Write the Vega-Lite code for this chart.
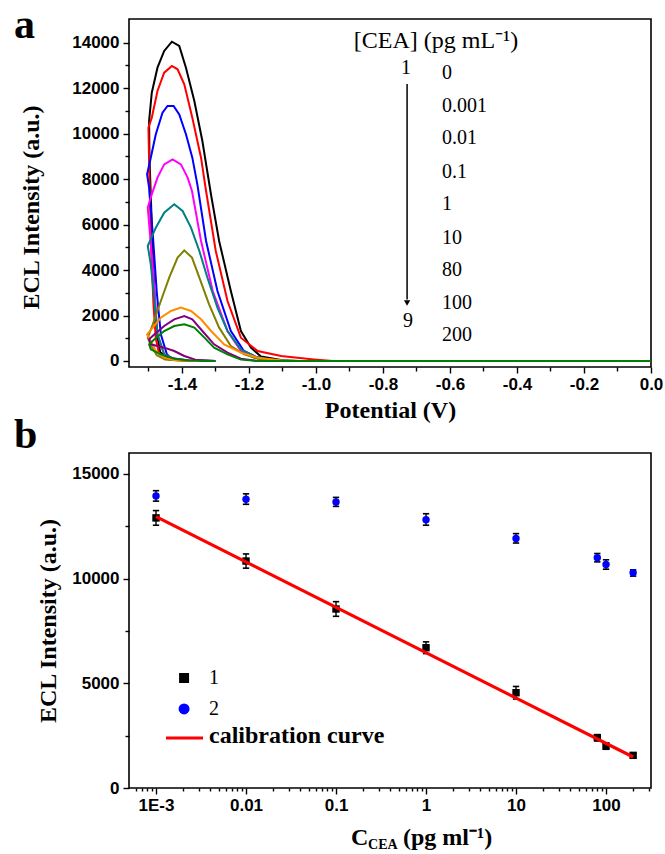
{
  "$schema": "https://vega.github.io/schema/vega-lite/v6.json",
  "padding": {"left": 13, "top": 3, "right": 5, "bottom": 0},
  "bounds": "flush",
  "spacing": 86,
  "background": "white",
  "resolve": {"scale": {"color": "independent", "shape": "independent"}},
  "config": {
    "view": {"stroke": "#000", "strokeWidth": 1.6},
    "axis": {"domain": false, "grid": false, "tickColor": "#000", "tickWidth": 1.4, "labelFont": "Liberation Sans", "labelFontWeight": "bold", "labelFontSize": 17, "labelColor": "#000", "titleFont": "Liberation Serif", "titleFontWeight": "bold", "titleFontSize": 24, "titleColor": "#000", "labelFlush": false, "labelOverlap": false}
  },
  "datasets": {
    "curves": [
      {"c":"c1","i":0,"x":0,"y":0},{"c":"c1","i":0.5,"x":-1.05,"y":0},{"c":"c1","i":1,"x":-1.10,"y":30},{"c":"c1","i":2,"x":-1.164,"y":200},{"c":"c1","i":3,"x":-1.194,"y":585},{"c":"c1","i":4,"x":-1.224,"y":1319},{"c":"c1","i":5,"x":-1.254,"y":3079},{"c":"c1","i":6,"x":-1.289,"y":5278},{"c":"c1","i":7,"x":-1.313,"y":7300},{"c":"c1","i":8,"x":-1.339,"y":9676},{"c":"c1","i":9,"x":-1.363,"y":11433},{"c":"c1","i":10,"x":-1.388,"y":12900},{"c":"c1","i":11,"x":-1.408,"y":13854},{"c":"c1","i":12,"x":-1.430,"y":14043},{"c":"c1","i":13,"x":-1.453,"y":13634},{"c":"c1","i":14,"x":-1.473,"y":12900},{"c":"c1","i":15,"x":-1.490,"y":11800},{"c":"c1","i":16,"x":-1.498,"y":10555},{"c":"c1","i":17,"x":-1.497,"y":9000},{"c":"c1","i":18,"x":-1.490,"y":6000},{"c":"c1","i":19,"x":-1.482,"y":3000},{"c":"c1","i":20,"x":-1.475,"y":1200},{"c":"c1","i":21,"x":-1.465,"y":400},{"c":"c1","i":22,"x":-1.44,"y":100},{"c":"c1","i":23,"x":-1.38,"y":0},
      {"c":"c2","i":0,"x":0,"y":0},{"c":"c2","i":0.5,"x":-0.95,"y":0},{"c":"c2","i":1,"x":-1.006,"y":70},{"c":"c2","i":2,"x":-1.104,"y":220},{"c":"c2","i":3,"x":-1.174,"y":440},{"c":"c2","i":4,"x":-1.224,"y":1026},{"c":"c2","i":5,"x":-1.264,"y":2639},{"c":"c2","i":6,"x":-1.299,"y":4838},{"c":"c2","i":7,"x":-1.328,"y":7477},{"c":"c2","i":8,"x":-1.343,"y":8941},{"c":"c2","i":9,"x":-1.369,"y":10700},{"c":"c2","i":10,"x":-1.393,"y":12167},{"c":"c2","i":11,"x":-1.413,"y":12827},{"c":"c2","i":12,"x":-1.430,"y":12974},{"c":"c2","i":13,"x":-1.453,"y":12680},{"c":"c2","i":14,"x":-1.473,"y":11875},{"c":"c2","i":15,"x":-1.490,"y":10700},{"c":"c2","i":16,"x":-1.500,"y":10260},{"c":"c2","i":17,"x":-1.497,"y":8000},{"c":"c2","i":18,"x":-1.492,"y":5000},{"c":"c2","i":19,"x":-1.485,"y":2500},{"c":"c2","i":20,"x":-1.478,"y":1000},{"c":"c2","i":21,"x":-1.468,"y":300},{"c":"c2","i":22,"x":-1.44,"y":60},{"c":"c2","i":23,"x":-1.38,"y":0},
      {"c":"c3","i":0,"x":0,"y":0},{"c":"c3","i":0.5,"x":-1.08,"y":0},{"c":"c3","i":1,"x":-1.12,"y":20},{"c":"c3","i":2,"x":-1.174,"y":147},{"c":"c3","i":3,"x":-1.215,"y":440},{"c":"c3","i":4,"x":-1.254,"y":1319},{"c":"c3","i":5,"x":-1.294,"y":3079},{"c":"c3","i":6,"x":-1.328,"y":5278},{"c":"c3","i":7,"x":-1.354,"y":7769},{"c":"c3","i":8,"x":-1.369,"y":8941},{"c":"c3","i":9,"x":-1.388,"y":9970},{"c":"c3","i":10,"x":-1.408,"y":10847},{"c":"c3","i":11,"x":-1.425,"y":11215},{"c":"c3","i":12,"x":-1.443,"y":11215},{"c":"c3","i":13,"x":-1.458,"y":10920},{"c":"c3","i":14,"x":-1.478,"y":9970},{"c":"c3","i":15,"x":-1.493,"y":8941},{"c":"c3","i":16,"x":-1.504,"y":8207},{"c":"c3","i":17,"x":-1.498,"y":7622},{"c":"c3","i":18,"x":-1.487,"y":5571},{"c":"c3","i":19,"x":-1.475,"y":3000},{"c":"c3","i":20,"x":-1.463,"y":1173},{"c":"c3","i":21,"x":-1.445,"y":300},{"c":"c3","i":22,"x":-1.433,"y":132},{"c":"c3","i":23,"x":-1.38,"y":20},{"c":"c3","i":24,"x":-1.30,"y":0},
      {"c":"c4","i":0,"x":0,"y":0},{"c":"c4","i":0.5,"x":-1.09,"y":0},{"c":"c4","i":1,"x":-1.13,"y":20},{"c":"c4","i":2,"x":-1.185,"y":147},{"c":"c4","i":3,"x":-1.224,"y":440},{"c":"c4","i":4,"x":-1.264,"y":1319},{"c":"c4","i":5,"x":-1.308,"y":3079},{"c":"c4","i":6,"x":-1.343,"y":5278},{"c":"c4","i":7,"x":-1.370,"y":7477},{"c":"c4","i":8,"x":-1.383,"y":8062},{"c":"c4","i":9,"x":-1.403,"y":8648},{"c":"c4","i":10,"x":-1.428,"y":8868},{"c":"c4","i":11,"x":-1.453,"y":8648},{"c":"c4","i":12,"x":-1.473,"y":8062},{"c":"c4","i":13,"x":-1.490,"y":7329},{"c":"c4","i":14,"x":-1.502,"y":6743},{"c":"c4","i":15,"x":-1.487,"y":4105},{"c":"c4","i":16,"x":-1.473,"y":1173},{"c":"c4","i":17,"x":-1.453,"y":293},{"c":"c4","i":18,"x":-1.42,"y":80},{"c":"c4","i":19,"x":-1.35,"y":0},
      {"c":"c5","i":0,"x":0,"y":0},{"c":"c5","i":0.5,"x":-1.09,"y":0},{"c":"c5","i":1,"x":-1.13,"y":20},{"c":"c5","i":2,"x":-1.185,"y":220},{"c":"c5","i":3,"x":-1.224,"y":513},{"c":"c5","i":4,"x":-1.264,"y":1319},{"c":"c5","i":5,"x":-1.294,"y":2346},{"c":"c5","i":6,"x":-1.324,"y":3665},{"c":"c5","i":7,"x":-1.348,"y":4838},{"c":"c5","i":8,"x":-1.373,"y":5864},{"c":"c5","i":9,"x":-1.398,"y":6597},{"c":"c5","i":10,"x":-1.423,"y":6890},{"c":"c5","i":11,"x":-1.453,"y":6522},{"c":"c5","i":12,"x":-1.478,"y":5864},{"c":"c5","i":13,"x":-1.502,"y":5058},{"c":"c5","i":14,"x":-1.493,"y":4251},{"c":"c5","i":15,"x":-1.482,"y":2639},{"c":"c5","i":16,"x":-1.473,"y":1173},{"c":"c5","i":17,"x":-1.453,"y":293},{"c":"c5","i":18,"x":-1.42,"y":60},{"c":"c5","i":19,"x":-1.35,"y":0},
      {"c":"c6","i":0,"x":0,"y":0},{"c":"c6","i":0.5,"x":-1.09,"y":0},{"c":"c6","i":1,"x":-1.12,"y":10},{"c":"c6","i":2,"x":-1.174,"y":100},{"c":"c6","i":3,"x":-1.214,"y":293},{"c":"c6","i":4,"x":-1.254,"y":660},{"c":"c6","i":5,"x":-1.289,"y":1466},{"c":"c6","i":6,"x":-1.319,"y":2493},{"c":"c6","i":7,"x":-1.348,"y":3665},{"c":"c6","i":8,"x":-1.370,"y":4545},{"c":"c6","i":9,"x":-1.393,"y":4867},{"c":"c6","i":10,"x":-1.413,"y":4545},{"c":"c6","i":11,"x":-1.438,"y":3665},{"c":"c6","i":12,"x":-1.463,"y":2639},{"c":"c6","i":13,"x":-1.487,"y":1613},{"c":"c6","i":14,"x":-1.502,"y":1026},{"c":"c6","i":15,"x":-1.493,"y":700},{"c":"c6","i":16,"x":-1.475,"y":250},{"c":"c6","i":17,"x":-1.45,"y":60},{"c":"c6","i":18,"x":-1.38,"y":0},
      {"c":"c7","i":0,"x":0,"y":0},{"c":"c7","i":0.5,"x":-1.05,"y":0},{"c":"c7","i":1,"x":-1.10,"y":20},{"c":"c7","i":2,"x":-1.174,"y":147},{"c":"c7","i":3,"x":-1.224,"y":367},{"c":"c7","i":4,"x":-1.274,"y":733},{"c":"c7","i":5,"x":-1.313,"y":1319},{"c":"c7","i":6,"x":-1.343,"y":1833},{"c":"c7","i":7,"x":-1.373,"y":2199},{"c":"c7","i":8,"x":-1.403,"y":2346},{"c":"c7","i":9,"x":-1.433,"y":2199},{"c":"c7","i":10,"x":-1.463,"y":1906},{"c":"c7","i":11,"x":-1.487,"y":1466},{"c":"c7","i":12,"x":-1.504,"y":1173},{"c":"c7","i":13,"x":-1.493,"y":880},{"c":"c7","i":14,"x":-1.478,"y":440},{"c":"c7","i":15,"x":-1.453,"y":147},{"c":"c7","i":16,"x":-1.42,"y":30},{"c":"c7","i":17,"x":-1.35,"y":0},
      {"c":"c8","i":0,"x":0,"y":0},{"c":"c8","i":0.5,"x":-1.14,"y":0},{"c":"c8","i":1,"x":-1.18,"y":10},{"c":"c8","i":2,"x":-1.224,"y":100},{"c":"c8","i":3,"x":-1.264,"y":367},{"c":"c8","i":4,"x":-1.304,"y":733},{"c":"c8","i":5,"x":-1.339,"y":1319},{"c":"c8","i":6,"x":-1.369,"y":1833},{"c":"c8","i":7,"x":-1.393,"y":1979},{"c":"c8","i":8,"x":-1.423,"y":1833},{"c":"c8","i":9,"x":-1.453,"y":1539},{"c":"c8","i":10,"x":-1.482,"y":1173},{"c":"c8","i":11,"x":-1.498,"y":953},{"c":"c8","i":12,"x":-1.493,"y":733},{"c":"c8","i":13,"x":-1.453,"y":586},{"c":"c8","i":14,"x":-1.423,"y":440},{"c":"c8","i":15,"x":-1.393,"y":220},{"c":"c8","i":16,"x":-1.36,"y":60},{"c":"c8","i":17,"x":-1.30,"y":0},
      {"c":"c9","i":0,"x":0,"y":0},{"c":"c9","i":0.5,"x":-1.14,"y":0},{"c":"c9","i":1,"x":-1.18,"y":10},{"c":"c9","i":2,"x":-1.224,"y":60},{"c":"c9","i":3,"x":-1.264,"y":293},{"c":"c9","i":4,"x":-1.304,"y":586},{"c":"c9","i":5,"x":-1.333,"y":1026},{"c":"c9","i":6,"x":-1.363,"y":1466},{"c":"c9","i":7,"x":-1.393,"y":1613},{"c":"c9","i":8,"x":-1.423,"y":1539},{"c":"c9","i":9,"x":-1.453,"y":1319},{"c":"c9","i":10,"x":-1.482,"y":953},{"c":"c9","i":11,"x":-1.498,"y":733},{"c":"c9","i":12,"x":-1.493,"y":513},{"c":"c9","i":13,"x":-1.463,"y":293},{"c":"c9","i":14,"x":-1.423,"y":100},{"c":"c9","i":15,"x":-1.38,"y":20},{"c":"c9","i":16,"x":-1.30,"y":0}
    ],
    "concLabels": [
      {"t":"0","x":-0.624,"y":12666},{"t":"0.001","x":-0.624,"y":11215},{"t":"0.01","x":-0.624,"y":9808},{"t":"0.1","x":-0.624,"y":8312},{"t":"1","x":-0.624,"y":6905},{"t":"10","x":-0.624,"y":5410},{"t":"80","x":-0.624,"y":4002},{"t":"100","x":-0.624,"y":2551},{"t":"200","x":-0.624,"y":1143}
    ],
    "series": [
      {"s":"1","x":0.001,"y":12900,"lo":12550,"hi":13250},
      {"s":"1","x":0.01,"y":10840,"lo":10500,"hi":11180},
      {"s":"1","x":0.1,"y":8550,"lo":8200,"hi":8900},
      {"s":"1","x":1,"y":6700,"lo":6420,"hi":6980},
      {"s":"1","x":10,"y":4550,"lo":4250,"hi":4850},
      {"s":"1","x":80,"y":2400,"lo":2250,"hi":2550},
      {"s":"1","x":100,"y":2000,"lo":1850,"hi":2150},
      {"s":"1","x":200,"y":1560,"lo":1450,"hi":1650},
      {"s":"2","x":0.001,"y":13950,"lo":13700,"hi":14200},
      {"s":"2","x":0.01,"y":13790,"lo":13550,"hi":14050},
      {"s":"2","x":0.1,"y":13660,"lo":13450,"hi":13880},
      {"s":"2","x":1,"y":12810,"lo":12550,"hi":13100},
      {"s":"2","x":10,"y":11920,"lo":11700,"hi":12150},
      {"s":"2","x":80,"y":11000,"lo":10800,"hi":11200},
      {"s":"2","x":100,"y":10680,"lo":10450,"hi":10900},
      {"s":"2","x":200,"y":10280,"lo":10120,"hi":10420}
    ]
  },
  "vconcat": [
    {
      "width": 522,
      "height": 348,
      "encoding": {
        "x": {"field": "x", "type": "quantitative", "scale": {"domain": [-1.558, 0], "nice": false, "zero": false},
          "axis": {"title": "Potential (V)", "values": [-1.5,-1.4,-1.3,-1.2,-1.1,-1.0,-0.9,-0.8,-0.7,-0.6,-0.5,-0.4,-0.3,-0.2,-0.1,0],
            "labelExpr": "abs(round(datum.value*10)) % 2 == 0 ? replace(format(datum.value, '.1f'), '\u2212', '-') : ''",
            "tickSize": {"condition": {"test": "abs(round(datum.value*10)) % 2 == 0", "value": 6}, "value": 4},
            "labelPadding": 3, "titlePadding": 6}},
        "y": {"field": "y", "type": "quantitative", "scale": {"domain": [-264, 15040], "nice": false, "zero": false},
          "axis": {"title": "ECL Intensity (a.u.)", "values": [0,1000,2000,3000,4000,5000,6000,7000,8000,9000,10000,11000,12000,13000,14000],
            "labelExpr": "datum.value % 2000 == 0 ? format(datum.value, 'd') : ''",
            "tickSize": {"condition": {"test": "datum.value % 2000 == 0", "value": 6}, "value": 4},
            "labelPadding": 4, "titlePadding": 28, "titleY": 188}}
      },
      "layer": [
        {
          "data": {"name": "curves"},
          "mark": {"type": "line", "strokeWidth": 2, "clip": true},
          "encoding": {
            "color": {"field": "c", "type": "nominal", "legend": null,
              "scale": {"domain": ["c1","c2","c3","c4","c5","c6","c7","c8","c9"], "range": ["#000000","#ff0000","#0000ff","#ff00ff","#008080","#808000","#ff8c00","#800080","#008000"]}},
            "order": {"field": "i", "type": "quantitative"}
          }
        },
        {
          "data": {"values": [{"t": "[CEA] (pg mL\u207b\u00b9)", "x": -0.887, "y": 14074}]},
          "mark": {"type": "text", "align": "left", "baseline": "middle", "font": "Liberation Serif", "fontSize": 24, "color": "#000"},
          "encoding": {"text": {"field": "t"}}
        },
        {
          "data": {"name": "concLabels"},
          "mark": {"type": "text", "align": "left", "baseline": "middle", "font": "Liberation Serif", "fontSize": 20, "color": "#000"},
          "encoding": {"text": {"field": "t"}}
        },
        {
          "data": {"values": [{"t": "1", "x": -0.731, "y": 12886}, {"t": "9", "x": -0.725, "y": 1759}]},
          "mark": {"type": "text", "align": "center", "baseline": "middle", "font": "Liberation Serif", "fontSize": 20, "color": "#000"},
          "encoding": {"text": {"field": "t"}}
        },
        {
          "data": {"values": [{"x": -0.728, "y": 12182, "y2": 2700}]},
          "mark": {"type": "rule", "color": "#000", "strokeWidth": 1.5},
          "encoding": {"y2": {"field": "y2"}}
        },
        {
          "data": {"values": [{"x": -0.728, "y": 2550}]},
          "mark": {"type": "point", "shape": "triangle-down", "filled": true, "color": "#000", "size": 40, "opacity": 1},
          "encoding": {}
        },
        {
          "data": {"values": [{"t": "a", "x": -1.901, "y": 14205}]},
          "mark": {"type": "text", "align": "left", "baseline": "alphabetic", "font": "Liberation Serif", "fontWeight": "bold", "fontSize": 42, "color": "#000"},
          "encoding": {"text": {"field": "t"}}
        }
      ]
    },
    {
      "width": 522,
      "height": 335,
      "encoding": {
        "x": {"field": "x", "type": "quantitative", "scale": {"type": "log", "domain": [0.000501, 316], "nice": false},
          "axis": {"title": null, "values": [0.0005,0.0006,0.0007,0.0008,0.0009,0.001,0.002,0.003,0.004,0.005,0.006,0.007,0.008,0.009,0.01,0.02,0.03,0.04,0.05,0.06,0.07,0.08,0.09,0.1,0.2,0.3,0.4,0.5,0.6,0.7,0.8,0.9,1,2,3,4,5,6,7,8,9,10,20,30,40,50,60,70,80,90,100,200,300],
            "labelExpr": "datum.value == 0.001 ? '1E-3' : datum.value == 0.01 ? '0.01' : datum.value == 0.1 ? '0.1' : datum.value == 1 ? '1' : datum.value == 10 ? '10' : datum.value == 100 ? '100' : ''",
            "tickSize": {"condition": {"test": "indexof([0.001,0.01,0.1,1,10,100], datum.value) >= 0", "value": 6}, "value": 3},
            "labelPadding": 3}},
        "y": {"field": "y", "type": "quantitative", "scale": {"domain": [0, 16000], "nice": false, "zero": false},
          "axis": {"title": "ECL Intensity (a.u.)", "values": [0,2500,5000,7500,10000,12500,15000],
            "labelExpr": "datum.value % 5000 == 0 ? format(datum.value, 'd') : ''",
            "tickSize": {"condition": {"test": "datum.value % 5000 == 0", "value": 6}, "value": 4},
            "labelPadding": 4, "titlePadding": 11}}
      },
      "layer": [
        {
          "data": {"name": "series"},
          "mark": {"type": "rule", "color": "#000", "strokeWidth": 1.4},
          "encoding": {"y": {"field": "lo", "type": "quantitative"}, "y2": {"field": "hi"}}
        },
        {
          "data": {"name": "series"},
          "mark": {"type": "point", "shape": "M-1,0L1,0", "filled": false, "color": "#000", "strokeWidth": 1.6, "size": 40, "opacity": 1},
          "encoding": {"y": {"field": "lo", "type": "quantitative"}}
        },
        {
          "data": {"name": "series"},
          "mark": {"type": "point", "shape": "M-1,0L1,0", "filled": false, "color": "#000", "strokeWidth": 1.6, "size": 40, "opacity": 1},
          "encoding": {"y": {"field": "hi", "type": "quantitative"}}
        },
        {
          "data": {"name": "series"},
          "mark": {"type": "point", "filled": true, "opacity": 1, "size": 55},
          "encoding": {
            "shape": {"field": "s", "type": "nominal", "legend": null, "scale": {"domain": ["1","2"], "range": ["square","circle"]}},
            "color": {"field": "s", "type": "nominal", "legend": null, "scale": {"domain": ["1","2"], "range": ["#000000","#0000ff"]}}
          }
        },
        {
          "data": {"values": [{"x": 0.001, "y": 12960}, {"x": 200, "y": 1480}]},
          "mark": {"type": "line", "color": "#ff0000", "strokeWidth": 3.2},
          "encoding": {}
        },
        {
          "data": {"values": [{"x": 0.00205, "y": 5255}]},
          "mark": {"type": "point", "shape": "square", "filled": true, "color": "#000", "size": 100, "opacity": 1},
          "encoding": {}
        },
        {
          "data": {"values": [{"x": 0.00205, "y": 3774}]},
          "mark": {"type": "point", "shape": "circle", "filled": true, "color": "#0000ff", "size": 120, "opacity": 1},
          "encoding": {}
        },
        {
          "data": {"values": [{"x": 0.00129, "y": 2389}, {"x": 0.00333, "y": 2389}]},
          "mark": {"type": "line", "color": "#ff0000", "strokeWidth": 3},
          "encoding": {}
        },
        {
          "data": {"values": [{"t": "1", "x": 0.00388, "y": 5255}, {"t": "2", "x": 0.00388, "y": 3774}]},
          "mark": {"type": "text", "align": "left", "baseline": "middle", "font": "Liberation Serif", "fontSize": 20, "color": "#000"},
          "encoding": {"text": {"field": "t"}}
        },
        {
          "data": {"values": [{"t": "calibration curve", "x": 0.00388, "y": 2484}]},
          "mark": {"type": "text", "align": "left", "baseline": "middle", "font": "Liberation Serif", "fontWeight": "bold", "fontSize": 24, "color": "#000"},
          "encoding": {"text": {"field": "t"}}
        },
        {
          "data": {"values": [{"t": "b", "x": 0.0000264, "y": 16242}]},
          "mark": {"type": "text", "align": "left", "baseline": "alphabetic", "font": "Liberation Serif", "fontWeight": "bold", "fontSize": 42, "color": "#000"},
          "encoding": {"text": {"field": "t"}}
        },
        {
          "data": {"values": [{"t": "C", "x": 0.147, "y": -2720}, {"t": "(pg ml\u207b\u00b9)", "x": 0.555, "y": -2720}]},
          "mark": {"type": "text", "align": "left", "baseline": "alphabetic", "font": "Liberation Serif", "fontWeight": "bold", "fontSize": 24, "color": "#000"},
          "encoding": {"text": {"field": "t"}}
        },
        {
          "data": {"values": [{"t": "CEA", "x": 0.227, "y": -2910}]},
          "mark": {"type": "text", "align": "left", "baseline": "alphabetic", "font": "Liberation Serif", "fontWeight": "bold", "fontSize": 14, "color": "#000"},
          "encoding": {"text": {"field": "t"}}
        }
      ]
    }
  ]
}
